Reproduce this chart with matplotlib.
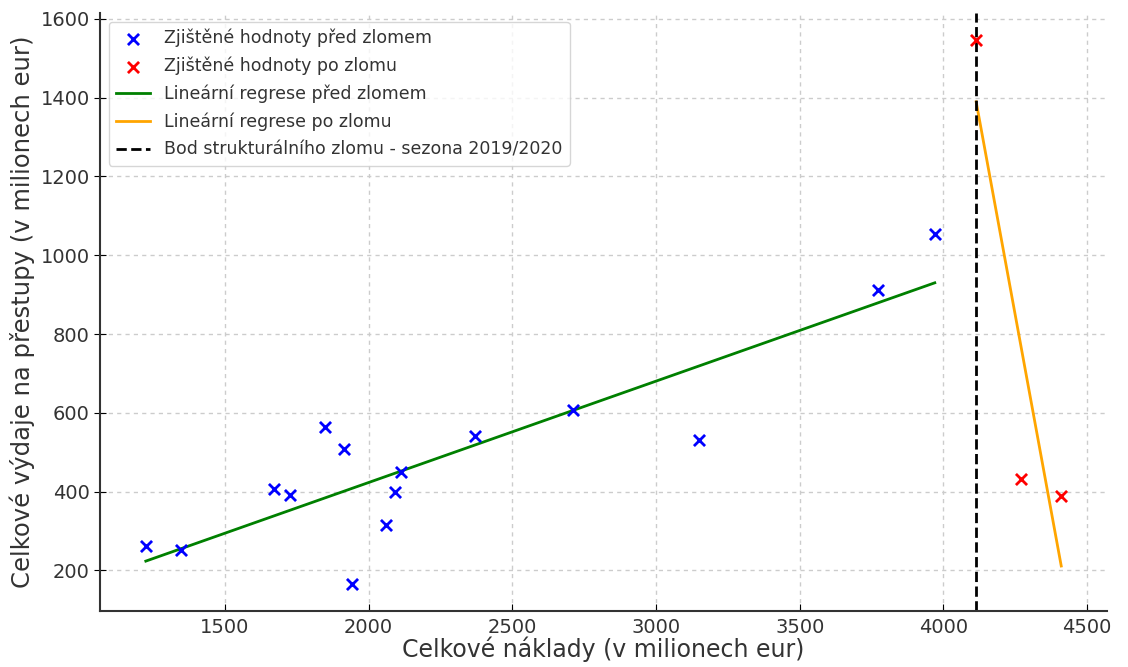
import numpy as np
import matplotlib
matplotlib.use('Agg')
import matplotlib.pyplot as plt

# hodnoty pred zlomem (v milionech eur)
naklady_pred = np.array([1225, 1348, 1671, 1727, 1850, 1916, 1944, 2061, 2093, 2113,
                         2372, 2710, 3151, 3774, 3970])
vydaje_pred = np.array([261, 251, 406, 391, 565, 507, 166, 314, 400, 450,
                        541, 608, 530, 912, 1054])

# hodnoty po zlomu
naklady_po = np.array([4114, 4271, 4410])
vydaje_po = np.array([1546, 431, 388])

bod_zlomu = naklady_po[0]

# linearni regrese
k1, q1 = np.polyfit(naklady_pred, vydaje_pred, 1)
k2, q2 = np.polyfit(naklady_po, vydaje_po, 1)
x1 = np.array([naklady_pred.min(), naklady_pred.max()])
x2 = np.array([naklady_po.min(), naklady_po.max()])

fig, ax = plt.subplots(figsize=(11.28, 6.67), dpi=100)
fig.subplots_adjust(left=0.0887, right=0.9814, bottom=0.084, top=0.9805)

h1 = ax.scatter(naklady_pred, vydaje_pred, marker='x', color='blue', s=64, linewidths=2,
                label='Zjištěné hodnoty před zlomem', zorder=3)
h2 = ax.scatter(naklady_po, vydaje_po, marker='x', color='red', s=64, linewidths=2,
                label='Zjištěné hodnoty po zlomu', zorder=3)
h3, = ax.plot(x1, k1 * x1 + q1, color='green', linewidth=2, label='Lineární regrese před zlomem')
h4, = ax.plot(x2, k2 * x2 + q2, color='orange', linewidth=2, label='Lineární regrese po zlomu')
h5 = ax.axvline(bod_zlomu, color='black', linestyle='--', linewidth=2,
                label='Bod strukturálního zlomu - sezona 2019/2020')

ax.set_xlabel('Celkové náklady (v milionech eur)', fontsize=17, color='#333333', labelpad=0)
ax.set_ylabel('Celkové výdaje na přestupy (v milionech eur)', fontsize=17.5, color='#333333', labelpad=4)

ax.grid(True, linestyle=(0, (3, 3)), color='#cccccc', linewidth=1)
ax.set_axisbelow(True)
ax.spines['top'].set_visible(False)
ax.spines['right'].set_visible(False)
for s in ['left', 'bottom']:
    ax.spines[s].set_linewidth(1.5)
    ax.spines[s].set_color('#333333')

ax.tick_params(axis='x', direction='in', labelsize=14, labelcolor='#333333', pad=5, length=5)
ax.tick_params(axis='y', direction='inout', labelsize=14, labelcolor='#333333', length=8)
ax.set_yticks([200, 400, 600, 800, 1000, 1200, 1400, 1600])
ax.set_xticks([1500, 2000, 2500, 3000, 3500, 4000, 4500])

leg = ax.legend(handles=[h1, h2, h3, h4, h5], loc='upper left', fontsize=12.5,
                borderaxespad=0.5, handlelength=2, labelspacing=0.55)
for t in leg.get_texts():
    t.set_color('#333333')

plt.savefig('out.png')
